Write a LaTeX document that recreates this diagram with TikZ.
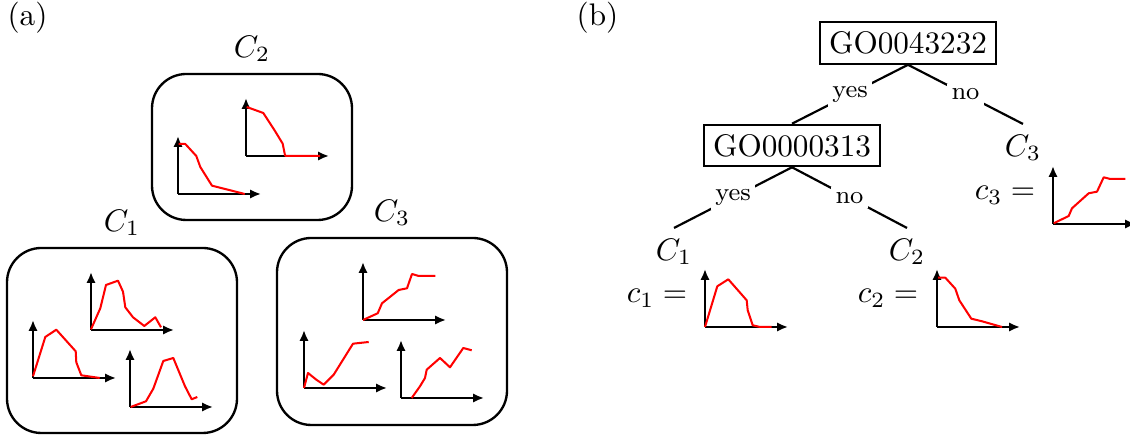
\documentclass[tikz,border=0pt]{standalone}
\usepackage{tikz}
\usetikzlibrary{arrows.meta,positioning,fit}

% small profile: axes with arrows and a red curve, origin given as #1
\newcommand{\miniplot}[2]{%
  \begin{scope}[shift={#1}]
    \draw [axis] (0,0) -- (83,0);
    \draw [axis] (0,0) -- (0,-58);
    \draw [curve] plot coordinates {#2};
  \end{scope}}

\begin{document}
\begin{tikzpicture}[
x=0.3205pt, y=-0.3205pt,
cluster/.style={rectangle, draw, rounded corners=11pt, line width=0.75pt, inner sep=0pt},
test/.style={rectangle, draw, line width=0.7pt, inner sep=3pt},
edge/.style={line width=0.7pt},
branch/.style={fill=white, font=\footnotesize, inner sep=1.5pt},
axis/.style={-{Latex[length=3.5pt,width=3pt]}, line width=0.75pt},
curve/.style={red, line width=0.65pt, line join=round}
]
\useasboundingbox (0,0) rectangle (1130,435);

% (a) clusters of profiles
\node (tagA) at (27.5,17.5) {(a)};
\node (boxtwo) [cluster, fit={(152,74) (352,220)}] {};
\node (boxone) [cluster, fit={(7,248) (237,433)}] {};
\node (boxthree) [cluster, fit={(277,238) (507,425)}] {};
\node (labtwo) [above=0pt of boxtwo] {$C_2$};
\node (labone) [above=0pt of boxone] {$C_1$};
\node (labthree) [above=0pt of boxthree] {$C_3$};

\miniplot{(178,194)}{(0.7,-50) (7.3,-50) (18.3,-38) (22.3,-27) (34,-8.3) (44.3,-5.7) (55,-3) (66.7,0)}
\miniplot{(246,156)}{(0.7,-49) (17.3,-43) (29,-25) (36.7,-12.3) (39,-0.7) (40,0) (74,0)}

\miniplot{(33,378)}{(0,-1.7) (12.3,-41) (23.3,-48.3) (42.7,-26.7) (43.3,-15.7) (48.3,-2.7) (66.7,0)}
\miniplot{(91,330)}{(0,-0.7) (9.3,-21.7) (15,-45) (27,-49.3) (32,-38.3) (34.3,-22.7) (42,-12.7) (53.3,-4) (64.3,-12.7) (70,-2.7)}
\miniplot{(130,407)}{(0.7,0) (16,-5.7) (23.3,-18.3) (33.3,-46) (43.3,-49) (55,-20.7) (61.7,-7.7) (67.3,-10)}

\miniplot{(363,320)}{(0,0) (14.7,-6.7) (19,-16.7) (35.7,-30) (44,-31.7) (49,-46) (55.7,-44) (72.3,-44)}
\miniplot{(304,388)}{(0,0) (4,-15) (12.3,-8.3) (19.7,-3.3) (29.7,-13.3) (49,-44.3) (64.7,-46)}
\miniplot{(401,398)}{(10.7,0) (19,-11.7) (24,-20) (25.7,-28.3) (39,-40) (49,-30.7) (62.3,-50) (70.7,-47.7)}

% (b) decision tree
\node (tagB) at (597.5,17.5) {(b)};
\node (root) [test] at (908,43) {GO0043232};
\node (inner) [test] at (792,145.5) {GO0000313};
\node (leafthree) at (1023,148) {$C_3$};
\node (leafone) at (674,252) {$C_1$};
\node (leaftwo) at (907,252) {$C_2$};

\draw [edge] (root.south) -- node [branch] {yes} (inner.north);
\draw [edge] (root.south) -- node [branch] {no} (leafthree.north);
\draw [edge] (inner.south) -- node [branch] {yes} (leafone.north);
\draw [edge] (inner.south) -- node [branch] {no} (leaftwo.north);

\node (eqone) at (657,298) {$c_1 =$};
\node (eqtwo) at (888,298) {$c_2 =$};
\node (eqthree) at (1005,195) {$c_3 =$};

\miniplot{(705,327)}{(0,0) (12.3,-40.7) (23.3,-47.7) (41.7,-26.7) (42.7,-16.7) (47.7,-1.7) (55,0) (66.7,0)}
\miniplot{(937,327)}{(1,-49.3) (8.3,-49.3) (18.3,-38.3) (22.3,-26.7) (34.3,-8.3) (45,-5.7) (65,0)}
\miniplot{(1053,224)}{(0.7,-0.7) (15.7,-8) (19,-15.7) (35.7,-30.7) (44,-32.3) (50.7,-46.7) (57.3,-45) (72.3,-45)}
\end{tikzpicture}
\end{document}
